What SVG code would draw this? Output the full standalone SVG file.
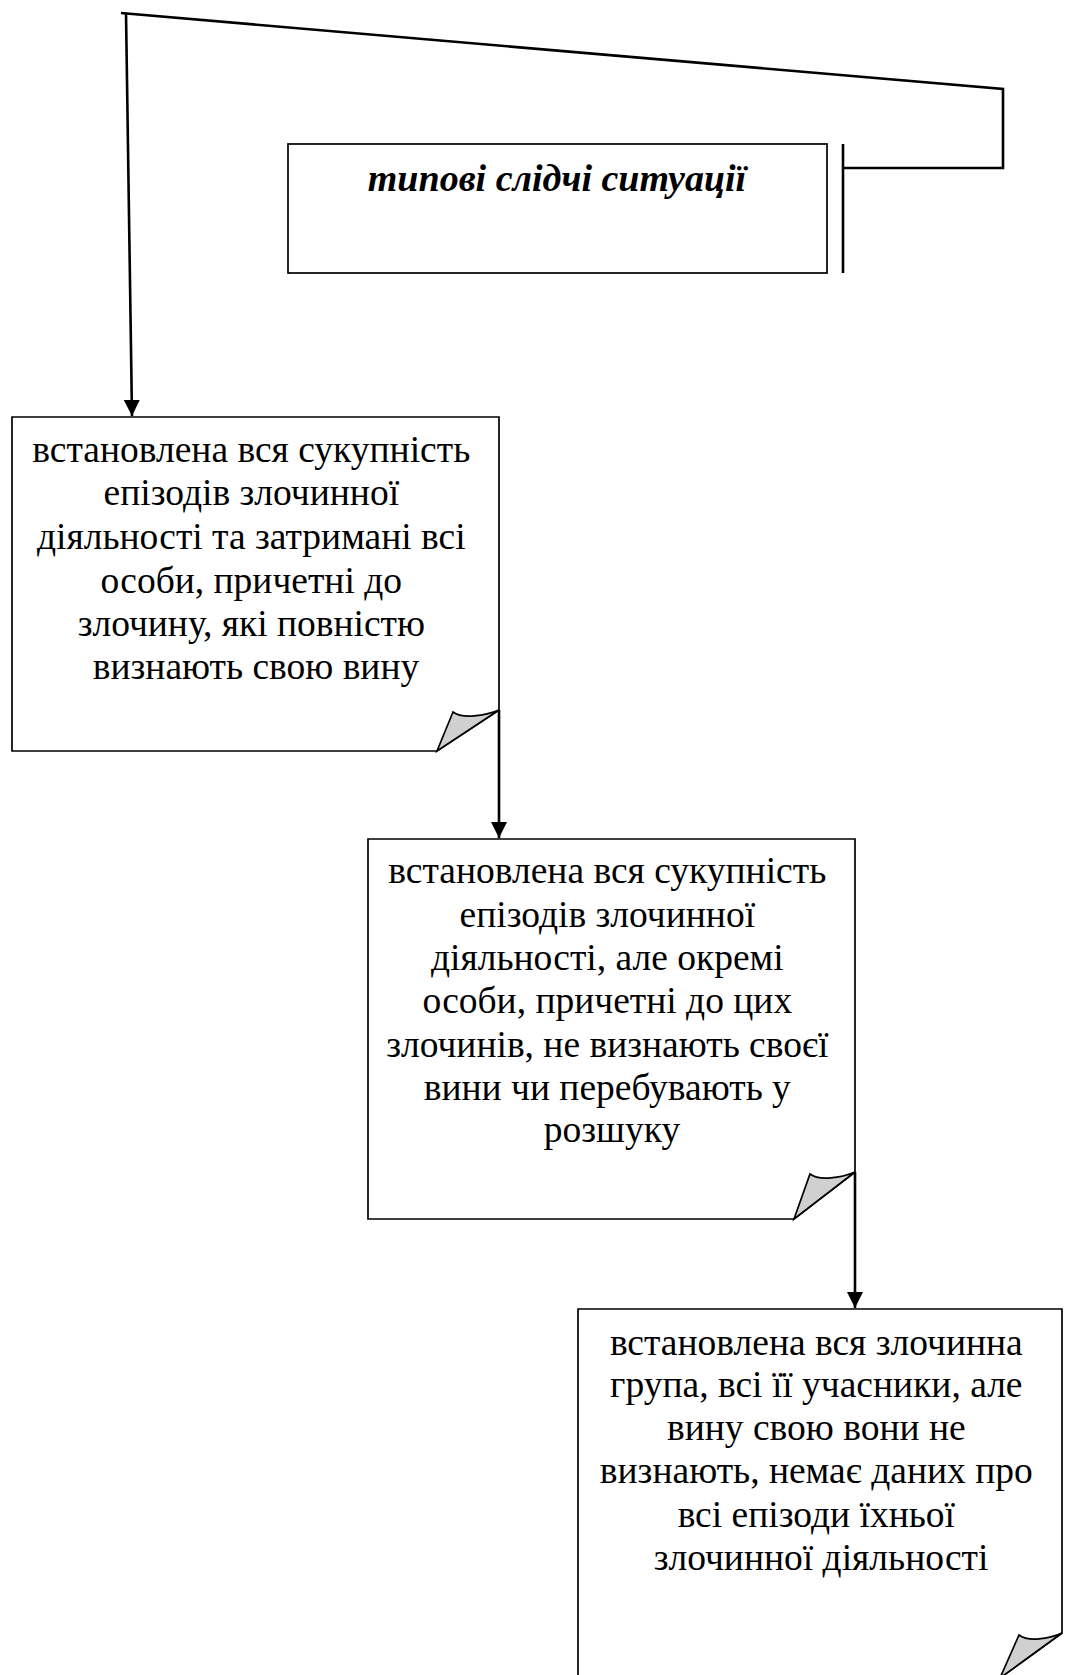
<svg xmlns="http://www.w3.org/2000/svg" width="1065" height="1675" viewBox="0 0 1065 1675">
<defs>
<style>
.box{fill:#fff;stroke:#000;stroke-width:1.7}
.fold{fill:#d0d0d0;stroke:#000;stroke-width:1.7;stroke-linejoin:miter}
.line{fill:none;stroke:#000;stroke-width:2.6}
.t{font-family:"Liberation Serif","Times New Roman",serif;font-size:37.5px;fill:#000;text-anchor:middle}
.ti{font-family:"Liberation Serif","Times New Roman",serif;font-size:38px;font-weight:bold;font-style:italic;fill:#000;text-anchor:middle}
</style>
<marker id="arr" markerWidth="16" markerHeight="16" refX="16" refY="8" orient="auto" markerUnits="userSpaceOnUse">
<path d="M0,0 L16,8 L0,16 Z" fill="#000"/>
</marker>
</defs>
<rect width="1065" height="1675" fill="#fff"/>

<g id="connectors">
<polyline class="line" points="843,168 1003,168 1003,89 121,13"/>
<line class="line" x1="843" y1="144" x2="843" y2="273"/>
<line class="line" x1="126" y1="13" x2="132" y2="416" marker-end="url(#arr)"/>
<line class="line" x1="499" y1="710" x2="499" y2="838" marker-end="url(#arr)"/>
<line class="line" x1="855" y1="1172" x2="855" y2="1308" marker-end="url(#arr)"/>
</g>

<g id="node-top">
<rect class="box" x="288" y="144" width="539" height="129"/>
<text class="ti" x="557" y="191">типові слідчі ситуації</text>
</g>

<g id="node-1">
<path class="box" d="M12,417 H499 V710 L437,751 H12 Z"/>
<path class="fold" d="M437,751 L453,712 C462,719 485,716 499,710 Z"/>
<text class="t" x="256">
<tspan x="256" y="462">встановлена вся сукупність</tspan>
<tspan x="256" y="505">епізодів злочинної</tspan>
<tspan x="256" y="549">діяльності та затримані всі</tspan>
<tspan x="256" y="593">особи, причетні до</tspan>
<tspan x="256" y="636">злочину, які повністю</tspan>
<tspan x="256" y="679">визнають свою вину</tspan>
</text>
</g>

<g id="node-2">
<path class="box" d="M368,839 H855 V1172 L794,1219 H368 Z"/>
<path class="fold" d="M794,1219 L810,1174 C819,1181 841,1178 855,1172 Z"/>
<text class="t" x="612">
<tspan x="612" y="883">встановлена вся сукупність</tspan>
<tspan x="612" y="927">епізодів злочинної</tspan>
<tspan x="612" y="970">діяльності, але окремі</tspan>
<tspan x="612" y="1013">особи, причетні до цих</tspan>
<tspan x="612" y="1057">злочинів, не визнають своєї</tspan>
<tspan x="612" y="1100">вини чи перебувають у</tspan>
<tspan x="612" y="1142">розшуку</tspan>
</text>
</g>

<g id="node-3">
<path class="box" d="M578,1309 H1062 V1633 L1000,1678 H578 Z"/>
<path class="fold" d="M1000,1678 L1019,1635 C1028,1642 1049,1639 1062,1633 Z"/>
<text class="t" x="821">
<tspan x="821" y="1355">встановлена вся злочинна</tspan>
<tspan x="821" y="1397">група, всі її учасники, але</tspan>
<tspan x="821" y="1440">вину свою вони не</tspan>
<tspan x="821" y="1483">визнають, немає даних про</tspan>
<tspan x="821" y="1527">всі епізоди їхньої</tspan>
<tspan x="821" y="1570">злочинної діяльності</tspan>
</text>
</g>
</svg>
